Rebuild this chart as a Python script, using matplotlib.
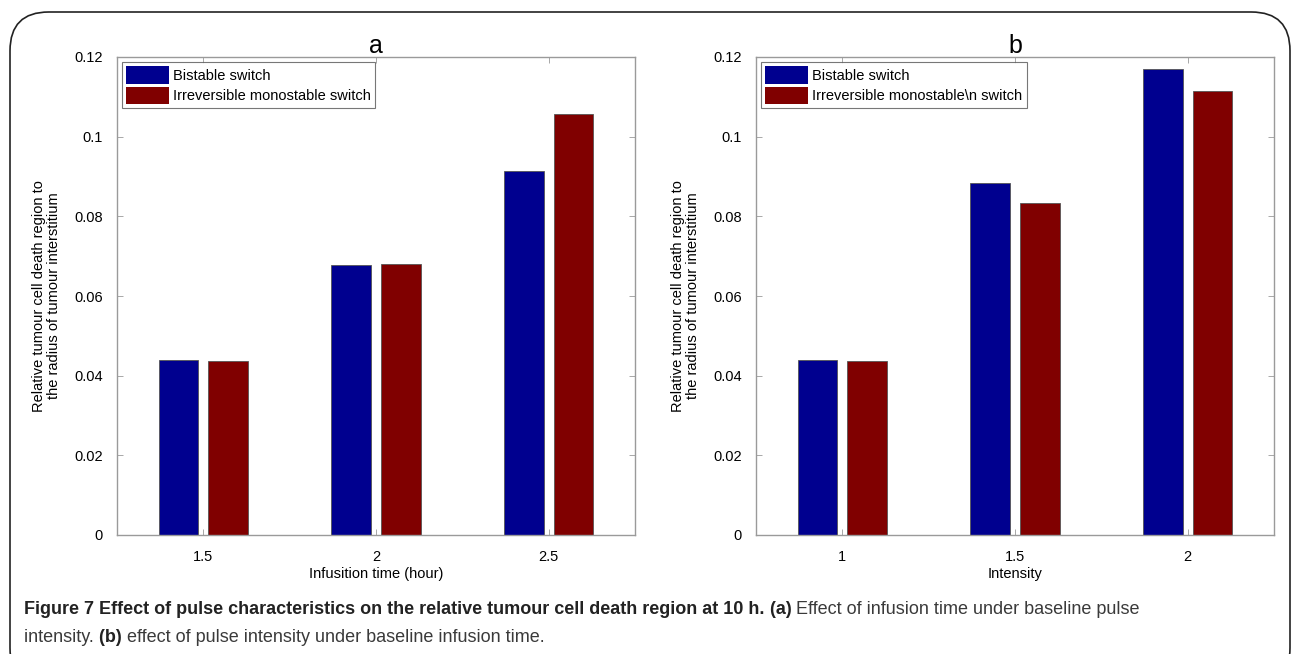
import matplotlib
matplotlib.use("Agg")
import matplotlib.pyplot as plt
from matplotlib.patches import FancyBboxPatch
import numpy as np

# Panel a: infusion time
time_labels = ["1.5", "2", "2.5"]
time_bistable = [0.0439, 0.0678, 0.0914]
time_irreversible = [0.0437, 0.0680, 0.1057]

# Panel b: pulse intensity
intensity_labels = ["1", "1.5", "2"]
intensity_bistable = [0.0439, 0.0884, 0.1170]
intensity_irreversible = [0.0437, 0.0834, 0.1115]

yticks = [0, 0.02, 0.04, 0.06, 0.08, 0.1, 0.12]
ytick_labels = ["0", "0.02", "0.04", "0.06", "0.08", "0.1", "0.12"]

BLUE = "#00008F"
RED = "#800000"
FRAME = "#9a9a9a"

plt.rcParams["font.family"] = ["Liberation Sans", "DejaVu Sans"]

W, H = 1292, 654
fig = plt.figure(figsize=(W / 100, H / 100), dpi=100)


def px_axes(x0, y0, x1, y1):
    return fig.add_axes([x0 / W, 1 - y1 / H, (x1 - x0) / W, (y1 - y0) / H])


def draw_panel(ax, labels, bist, irrev, title, xlabel, legend_names):
    x = np.arange(1, len(labels) + 1)
    w = 0.23
    off = 0.143
    ax.bar(x - off, bist, width=w, color=BLUE, edgecolor="#555555",
           linewidth=0.6, label=legend_names[0])
    ax.bar(x + off, irrev, width=w, color=RED, edgecolor="#555555",
           linewidth=0.6, label=legend_names[1])
    ax.set_xlim(0.5, len(labels) + 0.5)
    ax.set_ylim(0, 0.12)
    ax.set_xticks(x)
    ax.set_xticklabels(labels, fontsize=10.5)
    ax.set_yticks(yticks)
    ax.set_yticklabels(ytick_labels, fontsize=10.5)
    ax.tick_params(direction="in", length=4, width=0.6, color=FRAME,
                   top=True, right=True, pad=10)
    ax.tick_params(axis="x", pad=11)
    for s in ax.spines.values():
        s.set_color(FRAME)
        s.set_linewidth(1.0)
    ax.set_title(title, fontsize=18, pad=3)
    ax.set_xlabel(xlabel, fontsize=10.5, labelpad=2)
    ax.set_ylabel("Relative tumour cell death region to\nthe radius of tumour interstitium",
                  fontsize=10.5, labelpad=10, linespacing=1.05)
    leg = ax.legend(loc="upper left", fontsize=10.5, frameon=True, fancybox=False,
                    handlelength=2.9, handleheight=1.45, handletextpad=0.3,
                    borderpad=0.3, labelspacing=0.2, borderaxespad=0.35)
    leg.get_frame().set_edgecolor("#555555")
    leg.get_frame().set_linewidth(0.8)
    for h in leg.legend_handles:
        h.set_edgecolor("none")


ax_a = px_axes(117, 57, 635, 535)
draw_panel(ax_a, time_labels, time_bistable, time_irreversible, "a",
           "Infusition time (hour)",
           ["Bistable switch", "Irreversible monostable switch"])

ax_b = px_axes(756, 57, 1274, 535)
draw_panel(ax_b, intensity_labels, intensity_bistable, intensity_irreversible, "b",
           "Intensity",
           ["Bistable switch", "Irreversible monostable\\n switch"])

# Rounded frame around the figure
frame = FancyBboxPatch((10 / W, -0.05), (1280 / W), 1 - 12 / H + 0.05,
                       boxstyle="round,pad=0,rounding_size=0.03",
                       transform=fig.transFigure, fill=False,
                       edgecolor="#222222", linewidth=1.2,
                       mutation_aspect=W / H)
fig.patches.append(frame)

# Caption, written piece by piece so bold and regular runs sit side by side
renderer = fig.canvas.get_renderer()
cap_size = 13


def caption_line(x_px, y_px, pieces):
    x = x_px
    for txt, bold in pieces:
        t = fig.text(x / W, 1 - y_px / H, txt, fontsize=cap_size,
                     fontweight="bold" if bold else "normal",
                     color="#222222" if bold else "#3a3a3a", va="baseline")
        x += t.get_window_extent(renderer).width


caption_line(24, 614, [
    ("Figure 7 Effect of pulse characteristics on the relative tumour cell death region at 10 h. ", True),
    ("(a) ", True),
    ("Effect of infusion time under baseline pulse", False),
])
caption_line(24, 642, [
    ("intensity. ", False),
    ("(b) ", True),
    ("effect of pulse intensity under baseline infusion time.", False),
])

fig.savefig("out.png", dpi=100)
